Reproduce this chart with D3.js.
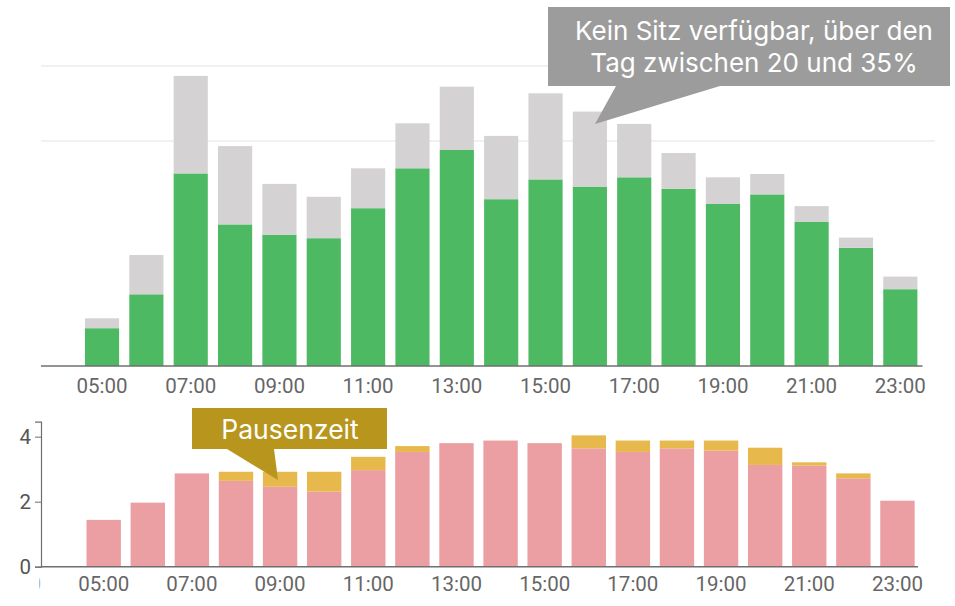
<!DOCTYPE html>
<html>
<head>
<meta charset="utf-8">
<script src="https://cdn.jsdelivr.net/npm/d3@7"></script>
<style>
  html, body { margin: 0; padding: 0; background: #fff; }
  svg { display: block; }
  .axis text { font-family: Roboto, sans-serif; }
</style>
</head>
<body>
<svg id="chart" width="955" height="606"></svg>
<script>
// Occupancy per hour of the day (top panel)
const hoursTop = ["04:00","05:00","06:00","07:00","08:00","09:00","10:00","11:00","12:00","13:00",
                  "14:00","15:00","16:00","17:00","18:00","19:00","20:00","21:00","22:00","23:00"];
const seated   = [0, 12.6, 23.9, 64.2, 47.2, 43.7, 42.6, 52.6, 65.9, 72.0,
                  55.6, 62.2, 59.8, 62.9, 59.1, 54.0, 57.2, 48.0, 39.4, 25.6];
const noSeat   = [0, 3.3, 13.1, 32.5, 26.1, 17.0, 13.8, 13.3, 15.0, 21.1,
                  21.1, 28.7, 25.0, 17.8, 11.9, 8.9, 6.8, 5.3, 3.4, 4.2];
const gridTop  = [75, 100];

// Hours per hour-slot: driving vs. break time (bottom panel)
const hoursBottom = ["03:00","04:00","05:00","06:00","07:00","08:00","09:00","10:00","11:00","12:00","13:00",
                     "14:00","15:00","16:00","17:00","18:00","19:00","20:00","21:00","22:00","23:00"];
const driving  = [0, 0, 1.44, 1.97, 2.87, 2.64, 2.46, 2.31, 2.97, 3.53, 3.80,
                  3.88, 3.80, 3.64, 3.53, 3.64, 3.57, 3.13, 3.11, 2.72, 2.03];
const pause    = [0, 0, 0, 0, 0, 0.28, 0.46, 0.61, 0.41, 0.18, 0,
                  0, 0, 0.40, 0.35, 0.24, 0.31, 0.53, 0.10, 0.15, 0];
const yTicksBottom = [0, 2, 4];

const callout1 = ["Kein Sitz verfügbar, über den", "Tag zwischen 20 und 35%"];
const callout2 = "Pausenzeit";

const C = {
  green: "#4dba63", grey: "#d4d2d2", pink: "#eb9fa3", gold: "#e7b84c",
  axis: "#6f6f6f", label: "#666", grid: "#ececec",
  calloutGrey: "#9c9c9c", calloutGold: "#b8961d"
};

const svg = d3.select("#chart");

// ---------- top panel ----------
const xTop = d3.scaleBand().domain(hoursTop).range([35.5, 922.5])
  .paddingInner(0.23).paddingOuter(0.115);
const yTop = d3.scaleLinear().domain([0, 100]).range([366, 66]);

const gTop = svg.append("g");
gTop.selectAll("line.grid").data(gridTop).join("line")
  .attr("class", "grid")
  .attr("x1", 41).attr("x2", 935)
  .attr("y1", d => yTop(d)).attr("y2", d => yTop(d))
  .attr("stroke", C.grid).attr("stroke-width", 1.5);

const topData = hoursTop.map((h, i) => ({ h, a: seated[i], b: noSeat[i] }));
gTop.selectAll("rect.seat").data(topData.filter(d => d.a > 0)).join("rect")
  .attr("class", "seat")
  .attr("x", d => xTop(d.h)).attr("width", xTop.bandwidth())
  .attr("y", d => yTop(d.a)).attr("height", d => yTop(0) - yTop(d.a))
  .attr("fill", C.green);
gTop.selectAll("rect.noseat").data(topData.filter(d => d.b > 0)).join("rect")
  .attr("class", "noseat")
  .attr("x", d => xTop(d.h)).attr("width", xTop.bandwidth())
  .attr("y", d => yTop(d.a + d.b)).attr("height", d => yTop(d.a) - yTop(d.a + d.b))
  .attr("fill", C.grey);

gTop.append("line")
  .attr("x1", 41).attr("x2", xTop.range()[1])
  .attr("y1", yTop(0)).attr("y2", yTop(0))
  .attr("stroke", C.axis).attr("stroke-width", 1.5);

const axTop = gTop.append("g").attr("class", "axis")
  .attr("transform", `translate(0,${yTop(0)})`)
  .call(d3.axisBottom(xTop).tickValues(hoursTop.filter((h, i) => i % 2 === 1)).tickSize(0).tickPadding(12));
axTop.select(".domain").remove();
axTop.selectAll("text").attr("font-size", 20.5).attr("fill", C.label);

// ---------- bottom panel ----------
const xBot = d3.scaleBand().domain(hoursBottom).range([-6.55, 919.5])
  .paddingInner(0.22).paddingOuter(0.11);
const yBot = d3.scaleLinear().domain([0, 4.46]).range([566.7, 421.7]);

svg.append("defs").append("clipPath").attr("id", "clipBot")
  .append("rect").attr("x", 39.5).attr("y", 380).attr("width", 920).attr("height", 230);

const gBot = svg.append("g").attr("clip-path", "url(#clipBot)");
const botData = hoursBottom.map((h, i) => ({ h, a: driving[i], b: pause[i] }));
gBot.selectAll("rect.drive").data(botData.filter(d => d.a > 0)).join("rect")
  .attr("class", "drive")
  .attr("x", d => xBot(d.h)).attr("width", xBot.bandwidth())
  .attr("y", d => yBot(d.a)).attr("height", d => yBot(0) - yBot(d.a))
  .attr("fill", C.pink);
gBot.selectAll("rect.pause").data(botData.filter(d => d.b > 0)).join("rect")
  .attr("class", "pause")
  .attr("x", d => xBot(d.h)).attr("width", xBot.bandwidth())
  .attr("y", d => yBot(d.a + d.b)).attr("height", d => yBot(d.a) - yBot(d.a + d.b))
  .attr("fill", C.gold);

gBot.append("line")
  .attr("x1", 41).attr("x2", 918)
  .attr("y1", yBot(0)).attr("y2", yBot(0))
  .attr("stroke", C.axis).attr("stroke-width", 1.5);

const axBot = gBot.append("g").attr("class", "axis")
  .attr("transform", `translate(0,${yBot(0)})`)
  .call(d3.axisBottom(xBot).tickValues(hoursBottom.filter((h, i) => i % 2 === 0)).tickSize(0).tickPadding(10));
axBot.select(".domain").remove();
axBot.selectAll("text").attr("font-size", 20.5).attr("fill", C.label);

const yAx = svg.append("g").attr("class", "axis")
  .attr("transform", "translate(41,0)")
  .call(d3.axisLeft(yBot).tickValues(yTicksBottom).tickSize(6).tickPadding(4).tickFormat(d3.format("d")));
yAx.select(".domain").attr("stroke", C.axis).attr("stroke-width", 1.2);
yAx.selectAll(".tick line").attr("stroke", C.axis);
yAx.selectAll("text").attr("font-size", 20.5).attr("fill", "#555");

// ---------- callouts ----------
const c1 = svg.append("g");
c1.append("path")
  .attr("d", "M548,7 H950 V86 H720 L595,124 L616,86 H548 Z")
  .attr("fill", C.calloutGrey);
c1.selectAll("text").data(callout1).join("text")
  .attr("x", 754).attr("y", (d, i) => 40 + i * 32.3)
  .attr("text-anchor", "middle")
  .attr("font-family", "Inter, sans-serif").attr("font-size", 26)
  .attr("fill", "#fff").text(d => d);

const c2 = svg.append("g");
c2.append("path")
  .attr("d", "M192,408 H387 V449 H274 L278,480 L227,449 H192 Z")
  .attr("fill", C.calloutGold);
c2.append("text")
  .attr("x", 290).attr("y", 438.5)
  .attr("text-anchor", "middle")
  .attr("font-family", "Inter, sans-serif").attr("font-size", 26.5)
  .attr("fill", "#fff").text(callout2);
</script>
</body>
</html>
